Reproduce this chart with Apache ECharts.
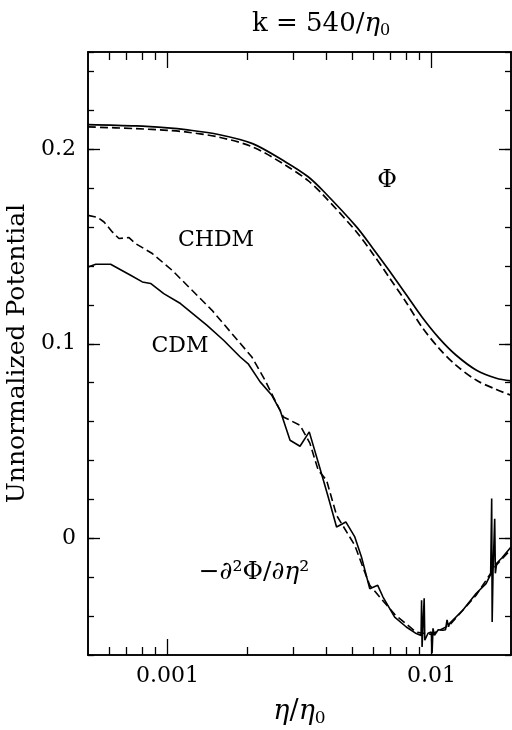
<!DOCTYPE html>
<html>
<head>
<meta charset="utf-8">
<script src="https://cdn.jsdelivr.net/npm/echarts@6/dist/echarts.min.js"></script>
<style>html,body{margin:0;padding:0;background:#fff}#c{width:512px;height:730px}</style>
</head>
<body>
<div id="c"></div>
<script>
// ---- data (x = eta/eta0, y = unnormalized potential) ----
const xMajorTicks = [0.001, 0.01];
const xMinorTicks = [0.0006, 0.0007, 0.0008, 0.0009, 0.002, 0.003, 0.004, 0.005, 0.006, 0.007, 0.008, 0.009];
const yMajorTicks = [0, 0.1, 0.2];

const phiX      = [0.0005, 0.00076, 0.001, 0.00117, 0.00156, 0.0021, 0.0028, 0.0034, 0.0039, 0.0052, 0.006, 0.0069, 0.008, 0.0092, 0.0107, 0.0124, 0.0148, 0.0176, 0.020];
const phiCDM    = [0.2127, 0.2120, 0.2110, 0.2101, 0.2076, 0.2029, 0.1935, 0.1860, 0.1784, 0.1601, 0.1490, 0.1378, 0.1255, 0.1138, 0.1028, 0.0941, 0.0864, 0.0823, 0.0809];
const phiCHDM   = [0.2115, 0.2106, 0.2097, 0.2089, 0.2063, 0.2012, 0.1918, 0.1840, 0.1763, 0.1575, 0.1462, 0.1343, 0.1215, 0.1086, 0.0975, 0.0889, 0.0812, 0.0765, 0.0735];

const d2CdmX = [0.0005, 0.000535, 0.000609, 0.000725, 0.000803, 0.000863, 0.000968, 0.00112, 0.001412, 0.001631, 0.001886, 0.002027, 0.002244, 0.002484, 0.00267, 0.002912, 0.003176, 0.003443, 0.003779, 0.004062, 0.004369, 0.004736, 0.005122, 0.005429, 0.005834, 0.006255, 0.006551, 0.007252, 0.008027, 0.008755, 0.00913, 0.00917, 0.00921, 0.00938, 0.00943, 0.0097, 0.00998, 0.01005, 0.01013, 0.01026, 0.0106, 0.01103, 0.0113, 0.01145, 0.0116, 0.01169, 0.01313, 0.01475, 0.01609, 0.01675, 0.0169, 0.01697, 0.0171, 0.01735, 0.01745, 0.01765, 0.0185, 0.020];
const d2CdmY = [0.1395, 0.1409, 0.1409, 0.1352, 0.1318, 0.1310, 0.1258, 0.1207, 0.1095, 0.1018, 0.0932, 0.0895, 0.0804, 0.0735, 0.0658, 0.0504, 0.0473, 0.0547, 0.0360, 0.0212, 0.0058, 0.0084, 0.0007, -0.0096, -0.0259, -0.0242, -0.0302, -0.0405, -0.0456, -0.0490, -0.0500, -0.0319, -0.0559, -0.0308, -0.0524, -0.0488, -0.0482, -0.0591, -0.0463, -0.0499, -0.0470, -0.0473, -0.0470, -0.0420, -0.0455, -0.0439, -0.0370, -0.0284, -0.0233, -0.0185, 0.0205, -0.0430, -0.0170, 0.0100, -0.0180, -0.0128, -0.0100, -0.0045];

const d2ChdmX = [0.0005, 0.000543, 0.000575, 0.000618, 0.000655, 0.000715, 0.000757, 0.000876, 0.001041, 0.001239, 0.001475, 0.001755, 0.002087, 0.002343, 0.002519, 0.002747, 0.003176, 0.003464, 0.003723, 0.004005, 0.004369, 0.005122, 0.005834, 0.007252, 0.008755, 0.009975, 0.01169, 0.01475, 0.01755, 0.020];
const d2ChdmY = [0.1660, 0.1650, 0.1626, 0.1575, 0.1541, 0.1546, 0.1515, 0.1464, 0.1378, 0.1275, 0.1172, 0.1052, 0.0932, 0.0812, 0.0726, 0.0624, 0.0581, 0.0488, 0.0350, 0.0298, 0.0118, -0.0036, -0.0242, -0.0391, -0.0483, -0.0494, -0.0447, -0.0293, -0.0139, -0.0057];

const xMin = 0.0005, xMax = 0.02, yMin = -0.06, yMax = 0.25;

// ---- build ----
const L = Math.log10;
const pairs = (xs, ys) => xs.map((x, i) => [L(x), ys[i]]);
const FONT = 'DejaVu Serif';
const black = '#000';

function xAxisDef(pos, ticks, len, labels) {
  return {
    type: 'value', position: pos, min: L(xMin), max: L(xMax),
    axisLine: { show: true, onZero: false, lineStyle: { color: black, width: 1.6 } },
    axisTick: { show: true, inside: true, length: len, customValues: ticks.map(L), lineStyle: { color: black, width: 1.3 } },
    axisLabel: labels ? {
      show: true, customValues: ticks.map(L), margin: 10,
      fontFamily: FONT, fontSize: 22, color: black,
      formatter: v => String(+Math.pow(10, v).toPrecision(6))
    } : { show: false },
    splitLine: { show: false }
  };
}
function yAxisDef(pos, major, labels) {
  const a = {
    type: 'value', position: pos, min: yMin, max: yMax,
    axisLine: { show: true, onZero: false, lineStyle: { color: black, width: 1.6 } },
    axisTick: { show: true, inside: true, length: major ? 12 : 6, lineStyle: { color: black, width: 1.3 } },
    axisLabel: { show: false },
    splitLine: { show: false }
  };
  if (major) {
    a.axisTick.customValues = yMajorTicks;
  } else {
    a.interval = 0.02;
  }
  if (labels) {
    a.axisLabel = { show: true, customValues: yMajorTicks, margin: 12, fontFamily: FONT, fontSize: 22, color: black,
      formatter: v => v === 0 ? '0' : v.toFixed(1) };
    a.name = 'Unnormalized Potential';
    a.nameLocation = 'middle';
    a.nameGap = 45;
    a.nameTextStyle = { fontFamily: FONT, fontSize: 25, color: black };
  }
  return a;
}

const xb = xAxisDef('bottom', xMajorTicks, 16, true);
xb.name = '{i|η}{n|/}{i|η}{s|0}';
xb.nameLocation = 'middle';
xb.nameGap = 42;
xb.nameTextStyle = { fontFamily: FONT, fontSize: 27, color: black,
  rich: {
    i: { fontFamily: FONT, fontSize: 27, fontStyle: 'italic', color: black, lineHeight: 30 },
    n: { fontFamily: FONT, fontSize: 27, color: black, lineHeight: 30 },
    s: { fontFamily: FONT, fontSize: 17, color: black, verticalAlign: 'bottom', lineHeight: 17 }
  } };

const lineBase = { type: 'line', showSymbol: false, symbol: 'none', xAxisIndex: 0, yAxisIndex: 0, silent: true };

const option = {
  animation: false,
  backgroundColor: '#fff',
  grid: { left: 88, right: 1, top: 52, bottom: 75, containLabel: false, outerBoundsMode: 'none' },
  title: {
    text: '{n|k = 540/}{i|η}{s|0}', left: 247, top: 4,
    textStyle: { fontFamily: FONT, fontSize: 26, fontWeight: 'normal', color: black,
      rich: {
        n: { fontFamily: FONT, fontSize: 26, color: black, lineHeight: 30 },
        i: { fontFamily: FONT, fontSize: 26, fontStyle: 'italic', color: black, lineHeight: 30 },
        s: { fontFamily: FONT, fontSize: 16, color: black, verticalAlign: 'bottom', lineHeight: 16 }
      } }
  },
  xAxis: [
    xb,
    xAxisDef('bottom', xMinorTicks, 8, false),
    xAxisDef('top', xMajorTicks, 16, false),
    xAxisDef('top', xMinorTicks, 8, false)
  ],
  yAxis: [
    yAxisDef('left', false, false),
    yAxisDef('left', true, true),
    yAxisDef('right', false, false),
    yAxisDef('right', true, false)
  ],
  graphic: [
    { type: 'text', x: 387, y: 181, style: { text: 'Φ', font: '24px "DejaVu Serif"', fill: black, align: 'center', verticalAlign: 'middle' } },
    { type: 'text', x: 216, y: 240, style: { text: 'CHDM', font: '22px "DejaVu Serif"', fill: black, align: 'center', verticalAlign: 'middle' } },
    { type: 'text', x: 180, y: 346, style: { text: 'CDM', font: '22px "DejaVu Serif"', fill: black, align: 'center', verticalAlign: 'middle' } },
    { type: 'text', x: 254, y: 572, style: { text: '−∂²Φ/∂{i|η}²', font: '25px "DejaVu Serif"', fill: black, align: 'center', verticalAlign: 'middle',
      rich: { i: { font: 'italic 25px "DejaVu Serif"', fill: black } } } }
  ],
  series: [
    Object.assign({}, lineBase, { name: 'Phi CDM', data: pairs(phiX, phiCDM), smooth: 0.3, lineStyle: { color: black, width: 1.7 } }),
    Object.assign({}, lineBase, { name: 'Phi CHDM', data: pairs(phiX, phiCHDM), smooth: 0.3, lineStyle: { color: black, width: 1.7, type: [8, 4] } }),
    Object.assign({}, lineBase, { name: 'd2Phi CDM', data: pairs(d2CdmX, d2CdmY), lineStyle: { color: black, width: 1.6 } }),
    Object.assign({}, lineBase, { name: 'd2Phi CHDM', data: pairs(d2ChdmX, d2ChdmY), lineStyle: { color: black, width: 1.6, type: [8, 4] } })
  ]
};

const chart = echarts.init(document.getElementById('c'), null, { renderer: 'canvas' });
chart.setOption(option);
</script>
</body>
</html>
